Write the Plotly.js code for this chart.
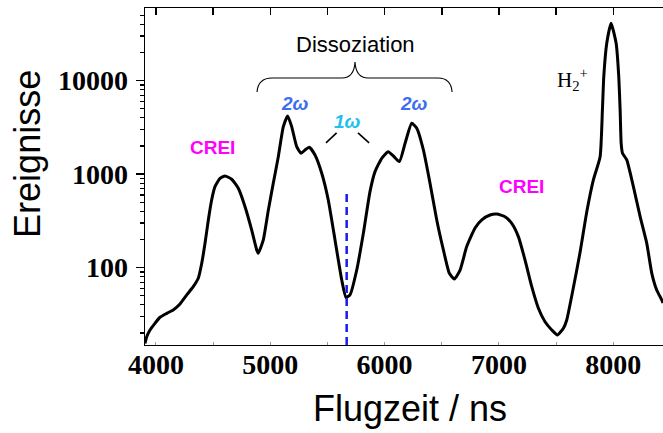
<!DOCTYPE html>
<html>
<head>
<meta charset="utf-8">
<script src="https://cdn.plot.ly/plotly-3.0.1.min.js"></script>
<style>
  html, body { margin: 0; padding: 0; background: #fff; }
  #chart { width: 663px; height: 433px; }
</style>
</head>
<body>
<div id="chart"></div>
<script>
// Time-of-flight spectrum (counts per bin, log scale)
const flugzeit = [
  3904, 3919, 3948, 3991, 4035, 4094, 4151, 4210, 4269, 4326, 4370, 4400, 4429, 4458,
  4487, 4516, 4560, 4604, 4662, 4720, 4779, 4837, 4881, 4895, 4939, 4983, 5026, 5070,
  5114, 5152, 5187, 5231, 5269, 5304, 5341, 5391, 5450, 5507, 5566, 5625, 5662, 5697,
  5756, 5814, 5872, 5916, 5975, 6032, 6076, 6129, 6179, 6237, 6281, 6339, 6397, 6456,
  6514, 6566, 6610, 6660, 6718, 6791, 6850, 6922, 6981, 7053, 7112, 7170, 7228, 7287,
  7345, 7403, 7462, 7511, 7564, 7593, 7647, 7710, 7768, 7826, 7885, 7905, 7917, 7943,
  7981, 8025, 8048, 8060, 8069, 8081, 8118, 8176, 8235, 8293, 8337, 8380, 8424, 8435
];
const ereignisse = [
  15.5, 18.3, 21.6, 25.4, 29.5, 32.5, 35.3, 40.9, 51.1, 62.6, 77.1, 111, 182, 324,
  530, 735, 904, 957, 882, 706, 449, 253, 155, 143, 198, 414, 800, 1538,
  3221, 4192, 3221, 1968, 1674, 1815, 1940, 1604, 1023, 530, 198, 73.8, 48.2, 51.1,
  94.4, 233, 650, 1064, 1479, 1741, 1566, 1361, 2140, 3502, 3095, 1815, 800, 324,
  155, 87.1, 75.7, 94.4, 168, 266, 324, 366, 375, 351, 298, 215, 121, 62.6,
  36.8, 26.4, 21.6, 19.1, 22.5, 27.6, 57.7, 147, 394, 867, 1538, 4862, 11030, 25120,
  41110, 25120, 11030, 4862, 2140, 1674, 1419, 735, 351, 182, 87.1, 57.7, 45.2, 41.9
];

// Axis ticks
const xTickVals = [4000, 5000, 6000, 7000, 8000];
const xTickText = ['4000', '5000', '6000', '7000', '8000'];
const xAllTicks = [4000, 4500, 5000, 5500, 6000, 6500, 7000, 7500, 8000];
const yTickVals = [100, 1000, 10000];
const yTickText = ['100', '1000', '10000'];
const yMinorVals = [
  20, 30, 40, 50, 60, 70, 80, 90,
  200, 300, 400, 500, 600, 700, 800, 900,
  2000, 3000, 4000, 5000, 6000, 7000, 8000, 9000,
  20000, 30000, 40000, 50000
];
const xRange = [3904, 8435];
const yRange = [14.9, 59800];

// One-photon dissociation position (dashed marker)
const oneOmegaX = [5668, 5668];
const oneOmegaY = [14.9, 690];

// Short pointer strokes beside the "1ω" label
const pointerLeftX = [5487, 5580];
const pointerLeftY = [2158, 2761];
const pointerRightX = [5767, 5864];
const pointerRightY = [2761, 2158];

// Text labels: [x, y, text]
const creiLeft = [4494, 1932, 'CREI'];
const creiRight = [7198, 738, 'CREI'];
const twoOmegaLeft = [5216, 5702, '2ω'];
const twoOmegaRight = [6257, 5702, '2ω'];
const oneOmega = [5671, 3614, '1ω'];
const h2plus = [7491, 10175, 'H<sub>2</sub><sup>+</sup>'];

// Brace spanning the dissociation peaks (x in data units)
const braceX = [4884, 4893, 5015, 5627, 5733, 5741, 5749, 5855, 6467, 6581, 6590];

const sans = 'Liberation Sans, Arial, sans-serif';
const serif = 'Liberation Serif, Times New Roman, serif';
const log = Math.log10;

const traces = [
  {
    x: flugzeit, y: ereignisse, type: 'scatter', mode: 'lines',
    line: { color: '#000', width: 3, shape: 'spline', smoothing: 0.5 },
    hoverinfo: 'x+y', showlegend: false
  },
  {
    x: oneOmegaX, y: oneOmegaY, type: 'scatter', mode: 'lines',
    line: { color: '#1a1aee', width: 2.5, dash: '8px,5px' },
    showlegend: false, hoverinfo: 'skip'
  },
  {
    x: pointerLeftX, y: pointerLeftY, type: 'scatter', mode: 'lines',
    line: { color: '#000', width: 1.6 }, showlegend: false, hoverinfo: 'skip'
  },
  {
    x: pointerRightX, y: pointerRightY, type: 'scatter', mode: 'lines',
    line: { color: '#000', width: 1.6 }, showlegend: false, hoverinfo: 'skip'
  },
  // invisible carriers so the mirrored top axis and the minor-tick axis are drawn
  { x: [xRange[0]], y: [yRange[0]], xaxis: 'x2', yaxis: 'y', type: 'scatter', mode: 'markers',
    marker: { opacity: 0 }, showlegend: false, hoverinfo: 'skip' },
  { x: [xRange[0]], y: [yRange[0]], xaxis: 'x', yaxis: 'y2', type: 'scatter', mode: 'markers',
    marker: { opacity: 0 }, showlegend: false, hoverinfo: 'skip' }
];

const braceLow = 0.7507, braceMid = 0.7923, braceTip = 0.8398;
const bracePath =
  `M ${braceX[0]},${braceLow} Q ${braceX[1]},${braceMid} ${braceX[2]},${braceMid} ` +
  `L ${braceX[3]},${braceMid} Q ${braceX[4]},${braceMid} ${braceX[5]},${braceTip} ` +
  `Q ${braceX[6]},${braceMid} ${braceX[7]},${braceMid} ` +
  `L ${braceX[8]},${braceMid} Q ${braceX[9]},${braceMid} ${braceX[10]},${braceLow}`;

function label(spec, font, anchor) {
  return {
    x: spec[0], y: log(spec[1]), xref: 'x', yref: 'y', text: spec[2],
    showarrow: false, xanchor: anchor || 'center', yanchor: 'middle', font: font
  };
}

const creiFont = { family: sans, size: 19, weight: 'bold', color: '#ff00ff' };
const twoFont = { family: sans, size: 19, weight: 'bold', style: 'italic', color: '#3d6ef0' };
const oneFont = { family: sans, size: 19, weight: 'bold', style: 'italic', color: '#1fbff0' };

const layout = {
  width: 663, height: 433,
  margin: { l: 145, r: 0, t: 8, b: 88 },
  paper_bgcolor: '#fff', plot_bgcolor: '#fff',
  showlegend: false,
  xaxis: {
    range: xRange, tickmode: 'array', tickvals: xTickVals, ticktext: xTickText,
    ticks: 'inside', ticklen: 3, tickwidth: 1, tickcolor: '#999',
    minor: { tickmode: 'linear', tick0: 4500, dtick: 1000, ticks: 'inside', ticklen: 3, tickwidth: 1, tickcolor: '#999', showgrid: false },
    showline: true, linecolor: '#000', linewidth: 1.2,
    showgrid: false, zeroline: false, ticklabelstandoff: -6,
    tickfont: { family: serif, size: 28, weight: 'bold', color: '#000' }
  },
  xaxis2: {
    range: xRange, overlaying: 'x', side: 'top', anchor: 'y',
    tickmode: 'array', tickvals: xAllTicks,
    ticks: 'inside', ticklen: 7, tickwidth: 1.5, tickcolor: '#000',
    showticklabels: false, showline: true, linecolor: '#000', linewidth: 1.5,
    showgrid: false, zeroline: false
  },
  yaxis: {
    type: 'log', range: [log(yRange[0]), log(yRange[1])],
    tickmode: 'array', tickvals: yTickVals, ticktext: yTickText,
    ticks: 'outside', ticklen: 8, tickwidth: 1.5, tickcolor: '#000',
    showline: true, linecolor: '#000', linewidth: 1.5,
    showgrid: false, zeroline: false, ticklabelstandoff: 2,
    tickfont: { family: serif, size: 28, weight: 'bold', color: '#000' }
  },
  yaxis2: {
    type: 'log', range: [log(yRange[0]), log(yRange[1])], overlaying: 'y', side: 'left', anchor: 'x',
    tickmode: 'array', tickvals: yMinorVals,
    ticks: 'outside', ticklen: 4, tickwidth: 1.2, tickcolor: '#000',
    showticklabels: false, showline: false, showgrid: false, zeroline: false
  },
  shapes: [
    { type: 'path', xref: 'x', yref: 'paper', path: bracePath, line: { color: '#000', width: 1.1 } }
  ],
  annotations: [
    { xref: 'paper', yref: 'paper', x: -0.2259, y: 0.567, text: 'Ereignisse', textangle: -90,
      showarrow: false, xanchor: 'center', yanchor: 'middle', font: { family: sans, size: 36, color: '#000' } },
    { xref: 'paper', yref: 'paper', x: 0.5116, y: -0.1884, text: 'Flugzeit / ns',
      showarrow: false, xanchor: 'center', yanchor: 'middle', font: { family: sans, size: 36, color: '#000' } },
    { xref: 'x', yref: 'paper', x: 5741, y: 0.893, text: 'Dissoziation',
      showarrow: false, xanchor: 'center', yanchor: 'middle', font: { family: sans, size: 22, color: '#000' } },
    label(creiLeft, creiFont),
    label(creiRight, creiFont),
    label(twoOmegaLeft, twoFont),
    label(twoOmegaRight, twoFont),
    label(oneOmega, oneFont),
    label(h2plus, { family: serif, size: 21, color: '#000' }, 'left')
  ]
};

Plotly.newPlot('chart', traces, layout, { staticPlot: true, displayModeBar: false });
</script>
</body>
</html>
